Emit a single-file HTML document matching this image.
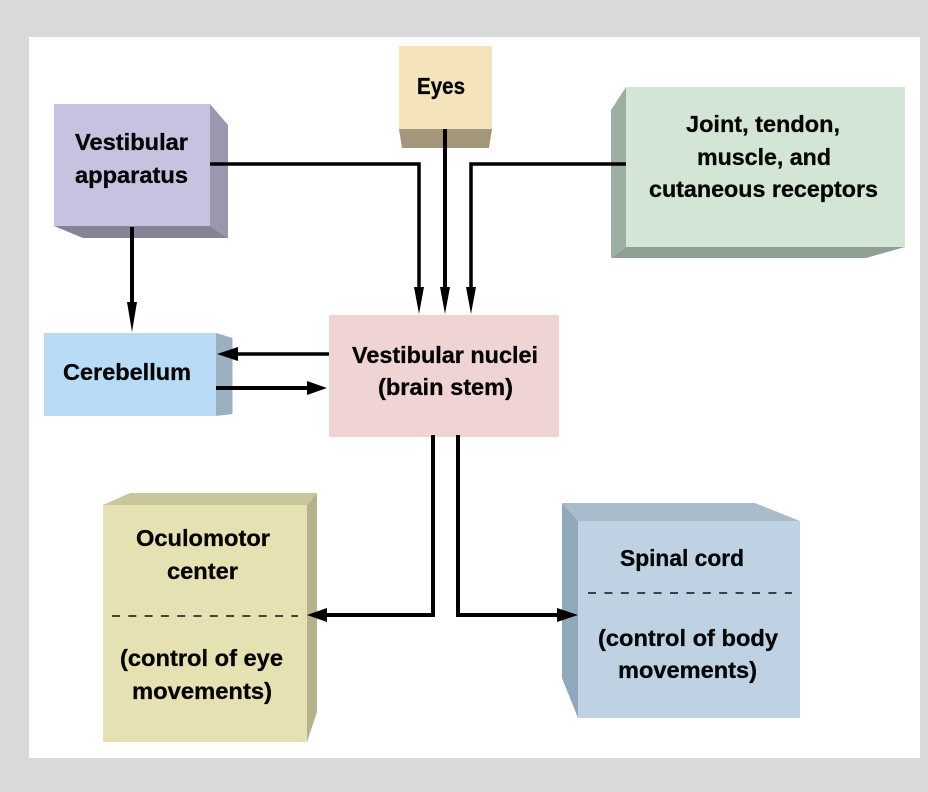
<!DOCTYPE html>
<html><head><meta charset="utf-8"><style>
html,body{margin:0;padding:0;background:#d9d9d9}
svg{display:block}
text{font-family:"Liberation Sans",sans-serif;font-weight:bold;font-size:23px;fill:#050505;stroke:#050505;stroke-width:.3px}
</style></head><body>
<svg width="928" height="792" viewBox="0 0 928 792" xmlns="http://www.w3.org/2000/svg">
<rect width="928" height="792" fill="#d9d9d9"/>
<rect x="29" y="37" width="891" height="721" fill="#fff"/>

<!-- Vestibular apparatus -->
<polygon points="210,104 228,125 228,238 210,226" fill="#9a98ae"/>
<polygon points="54,226 83,238 228,238 210,226" fill="#858397"/>
<rect x="54" y="104" width="156" height="122" fill="#c5c3e0"/>

<!-- Eyes -->
<polygon points="399,129 492,129 489,148 402,148" fill="#a3967a"/>
<rect x="399" y="46" width="93" height="83" fill="#f5e3bb"/>

<!-- Joint -->
<polygon points="626,87 611,110 611,258 626,247" fill="#9cb0a2"/>
<polygon points="611,258 866,258 905,247 626,247" fill="#8ea093"/>
<rect x="626" y="87" width="279" height="160" fill="#d3e5d5"/>

<!-- Cerebellum -->
<polygon points="216,333 232.500,338 232.500,414 216,416" fill="#9bb0c0"/>
<rect x="44" y="333" width="172" height="83" fill="#b9dcf6"/>

<!-- Nuclei -->
<rect x="329" y="315" width="230" height="122" fill="#f0d3d3"/>

<!-- Oculomotor -->
<polygon points="103,505 130,493 317,493 307,505" fill="#c9c59c"/>
<polygon points="307,505 317,493 317,712 307,742" fill="#b5b28c"/>
<rect x="103" y="505" width="204" height="237" fill="#e5e1b2"/>

<!-- Spinal -->
<polygon points="562,503 755,503 800,521 578,521" fill="#a9bccc"/>
<polygon points="562,503 578,521 578,718 562,678" fill="#90a8bc"/>
<rect x="578" y="521" width="222" height="197" fill="#bed2e4"/>

<!-- Dashes -->
<line x1="112" y1="616" x2="298" y2="616" stroke="#111" stroke-width="1.500" stroke-dasharray="8 8.300"/>
<line x1="588" y1="593" x2="792" y2="593" stroke="#111" stroke-width="1.500" stroke-dasharray="8 8.400"/>

<!-- Connectors -->
<g fill="none" stroke="#000" stroke-width="3.500">
<polyline points="210,164 419,164 419,292"/>
<polyline points="445,129 445,292" stroke-width="4"/>
<polyline points="626,164 471,164 471,292"/>
<polyline points="132,227 132,308" stroke-width="4"/>
<polyline points="329,354 234,354"/>
<polyline points="216,388 310,388" stroke-width="4"/>
<polyline points="433,435 433,615 323,615" stroke-width="4"/>
<polyline points="458,435 458,615 562,615" stroke-width="4"/>
</g>
<g fill="#000">
<polygon points="414,287 424,287 419,314"/>
<polygon points="440,287 450,287 445,314"/>
<polygon points="466,287 476,287 471,314"/>
<polygon points="127,302 137,302 132,332"/>
<polygon points="238,347 238,361 217,354"/>
<polygon points="307,381 307,395 327,388"/>
<polygon points="327,608 327,622 307,615"/>
<polygon points="557,608 557,622 578,615"/>
</g>

<!-- Labels -->
<g>
<text x="75" y="150" textLength="113" lengthAdjust="spacingAndGlyphs">Vestibular</text>
<text x="75" y="183" textLength="113" lengthAdjust="spacingAndGlyphs">apparatus</text>
<text x="417" y="94" textLength="48" lengthAdjust="spacingAndGlyphs">Eyes</text>
<text x="686" y="132" textLength="154" lengthAdjust="spacingAndGlyphs">Joint, tendon,</text>
<text x="697" y="165" textLength="134" lengthAdjust="spacingAndGlyphs">muscle, and</text>
<text x="649" y="197" textLength="229" lengthAdjust="spacingAndGlyphs">cutaneous receptors</text>
<text x="63" y="380" textLength="128" lengthAdjust="spacingAndGlyphs">Cerebellum</text>
<text x="352" y="363" textLength="186" lengthAdjust="spacingAndGlyphs">Vestibular nuclei</text>
<text x="378" y="395" textLength="135" lengthAdjust="spacingAndGlyphs">(brain stem)</text>
<text x="136" y="546" textLength="134" lengthAdjust="spacingAndGlyphs">Oculomotor</text>
<text x="167" y="579" textLength="71" lengthAdjust="spacingAndGlyphs">center</text>
<text x="120" y="666" textLength="163" lengthAdjust="spacingAndGlyphs">(control of eye</text>
<text x="132" y="699" textLength="140" lengthAdjust="spacingAndGlyphs">movements)</text>
<text x="620" y="566" textLength="124" lengthAdjust="spacingAndGlyphs">Spinal cord</text>
<text x="598" y="646" textLength="180" lengthAdjust="spacingAndGlyphs">(control of body</text>
<text x="618" y="678" textLength="139" lengthAdjust="spacingAndGlyphs">movements)</text>
</g>
</svg>
</body></html>
